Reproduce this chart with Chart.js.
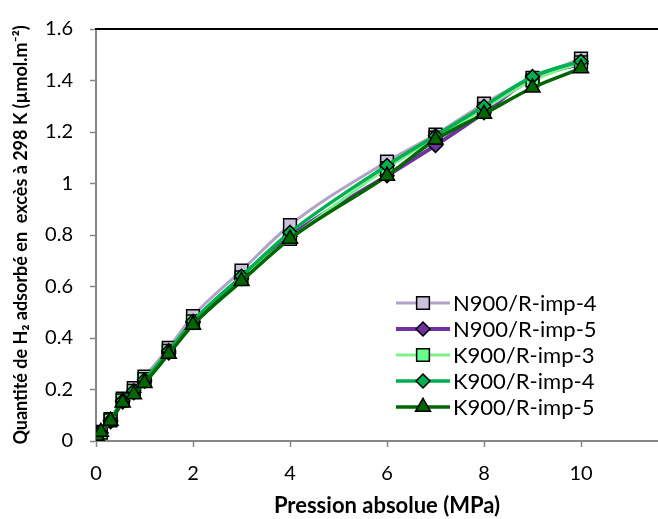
<!DOCTYPE html>
<html><head><meta charset="utf-8">
<script src="https://cdn.jsdelivr.net/npm/chart.js@4/dist/chart.umd.min.js"></script>
<style>
html,body{margin:0;padding:0;overflow:hidden;background:#fff;}
#wrap{width:700px;height:519px;position:relative;}
</style></head><body>
<div id="wrap"><canvas id="c" width="700" height="519"></canvas></div>
<script>
const pressure = [0.01, 0.1, 0.3, 0.55, 0.78, 1, 1.5, 2, 3, 4, 6, 7, 8, 9, 10];
const n900imp4 = [0.012, 0.035, 0.085, 0.165, 0.205, 0.25, 0.362, 0.485, 0.662, 0.838, 1.085, 1.19, 1.31, 1.41, 1.485];
const n900imp5 = [0.008, 0.03, 0.075, 0.152, 0.188, 0.232, 0.342, 0.46, 0.63, 0.795, 1.03, 1.148, 1.275, 1.41, 1.465];
const k900imp3 = [0.01, 0.032, 0.08, 0.158, 0.195, 0.24, 0.35, 0.465, 0.635, 0.785, 1.06, 1.178, 1.29, 1.4, 1.47];
const k900imp4 = [0.01, 0.033, 0.08, 0.157, 0.195, 0.238, 0.35, 0.465, 0.64, 0.81, 1.07, 1.185, 1.3, 1.415, 1.475];
const k900imp5 = [0.02, 0.035, 0.078, 0.149, 0.181, 0.225, 0.338, 0.451, 0.621, 0.785, 1.03, 1.17, 1.27, 1.372, 1.447];
const seriesNames = ['N900/R-imp-4','N900/R-imp-5','K900/R-imp-3','K900/R-imp-4','K900/R-imp-5'];
const xTicks = [0, 2, 4, 6, 8, 10];
const yTicks = [0, 0.2, 0.4, 0.6, 0.8, 1, 1.2, 1.4, 1.6];

const FONT = 'Lato';
const styles = [
  {line:'#b3a2c7', fill:'#ccc1da', ps:'rect', r:9, lw:3},
  {line:'#7030a0', fill:'#7030a0', ps:'rectRot', r:7, lw:4},
  {line:'#7df08f', fill:'#66ff88', ps:'rect', r:9, lw:3},
  {line:'#00b050', fill:'#00b050', ps:'rectRot', r:7, lw:3.5},
  {line:'#006600', fill:'#006600', ps:'triangle', r:8.7, lw:3.5}
];
const values = [n900imp4, n900imp5, k900imp3, k900imp4, k900imp5];
const datasets = values.map((v,i)=>({
  label: seriesNames[i],
  data: pressure.map((p,j)=>({x:p, y:v[j]})),
  borderColor: styles[i].line,
  backgroundColor: styles[i].fill,
  pointBackgroundColor: styles[i].fill,
  pointBorderColor: '#000',
  pointBorderWidth: 1.5,
  pointStyle: styles[i].ps,
  pointRadius: styles[i].r,
  borderWidth: styles[i].lw,
  tension: 0.4,
  cubicInterpolationMode: 'monotone',
  order: 5 - i
}));

new Chart(document.getElementById('c'), {
  type: 'line',
  data: { datasets },
  plugins: [{
    id: 'legendMarks',
    afterDraw(chart){
      const ctx = chart.ctx, a = chart.chartArea;
      ctx.save();
      ctx.strokeStyle = '#000'; ctx.lineWidth = 2;
      ctx.beginPath(); ctx.moveTo(a.left - 1, a.top); ctx.lineTo(chart.width, a.top); ctx.stroke();
      const lx0 = 396, lx1 = 450, tx = 453, rows = [303, 329, 355, 381, 407];
      ctx.font = '22px ' + FONT;
      ctx.textBaseline = 'middle'; ctx.textAlign = 'left';
      styles.forEach((s,i)=>{
        const y = rows[i];
        ctx.strokeStyle = s.line; ctx.lineWidth = s.lw;
        ctx.beginPath(); ctx.moveTo(lx0, y); ctx.lineTo(lx1, y); ctx.stroke();
        ctx.fillStyle = s.fill; ctx.strokeStyle = '#000'; ctx.lineWidth = 1.5;
        Chart.helpers.drawPoint(ctx, {pointStyle: s.ps, rotation: 0, radius: s.r, borderWidth: 1.5}, (lx0+lx1)/2, y);
        ctx.fillStyle = '#000';
        ctx.fillText(seriesNames[i], tx, y + 1);
      });
      ctx.restore();
    }
  }],
  options: {
    responsive: false,
    animation: false,
    layout: { padding: { left: 0, right: 22, top: 17, bottom: 0 } },
    plugins: { legend: { display: false }, tooltip: { enabled: false } },
    scales: {
      x: {
        type: 'linear', min: 0, max: 12,
        afterBuildTicks(s){ s.ticks = xTicks.map(v=>({value:v})); },
        afterFit(s){ s.height = 78; },
        grid: { drawOnChartArea: false, drawTicks: true, tickLength: 6, color: '#868686', tickWidth: 1.5 },
        border: { color: '#868686', width: 2 },
        ticks: { font: { family: FONT, size: 20 }, color: '#000', padding: 15, maxRotation: 0 },
        title: { display: true, text: 'Pression absolue (MPa)', font: { family: FONT, size: 22, weight: 'bold' }, color: '#000', padding: { top: 4, bottom: 0 } }
      },
      y: {
        type: 'linear', min: 0, max: 1.6,
        afterBuildTicks(s){ s.ticks = yTicks.map(v=>({value:v})); },
        afterFit(s){ s.width = 96; },
        grid: { drawOnChartArea: false, drawTicks: true, tickLength: 6, color: '#868686', tickWidth: 1.5 },
        border: { color: '#868686', width: 2 },
        ticks: { font: { family: FONT, size: 20 }, color: '#000', padding: 17, callback: v => String(Math.round(v*10)/10) },
        title: { display: true, text: 'Quantité de H\u2082 adsorbé en  excès à 298 K (µmol.m\u207B\u00B2)', font: { family: FONT, size: 18, weight: 'bold' }, color: '#000', padding: { top: 10, bottom: 0 } }
      }
    }
  }
});
</script>
</body></html>
